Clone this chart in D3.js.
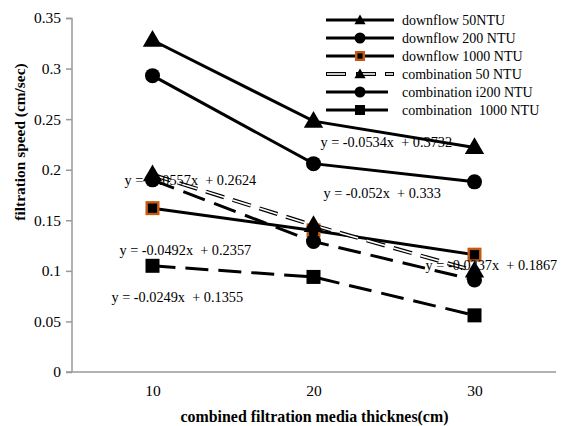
<!DOCTYPE html>
<html><head><meta charset="utf-8">
<script src="https://cdn.jsdelivr.net/npm/d3@7/dist/d3.min.js"></script>
<style>body{margin:0;background:#fff}svg{display:block}
text{font-family:"Liberation Serif","Times New Roman",serif;}</style>
</head><body><svg id="c" width="571" height="426"></svg>
<script>
const categories = ["10","20","30"];
const yTicks = [0,0.05,0.1,0.15,0.2,0.25,0.3,0.35];
const downflow50 = [0.328,0.248,0.222];
const downflow200 = [0.293,0.206,0.188];
const downflow1000 = [0.162,0.140,0.116];
const combination50 = [0.195,0.145,0.100];
const combination200 = [0.190,0.129,0.091];
const combination1000 = [0.105,0.094,0.056];
const seriesNames = ["downflow 50NTU","downflow 200 NTU","downflow 1000 NTU","combination 50 NTU","combination i200 NTU","combination  1000 NTU"];
const equations = ["y = -0.0534x  + 0.3732","y = -0.052x  + 0.333","y = -0.0237x  + 0.1867","y = -0.0557x  + 0.2624","y = -0.0492x  + 0.2357","y = -0.0249x  + 0.1355"];

const series = [
  {name:seriesNames[0], values:downflow50, marker:"tri", style:"solid"},
  {name:seriesNames[1], values:downflow200, marker:"circ", style:"solid"},
  {name:seriesNames[2], values:downflow1000, marker:"sqOrange", style:"solid"},
  {name:seriesNames[3], values:combination50, marker:"tri", style:"hollow"},
  {name:seriesNames[4], values:combination200, marker:"circ", style:"dash"},
  {name:seriesNames[5], values:combination1000, marker:"sq", style:"dash"}
];
// equation label anchor positions (category-step offset from first category, y value)
const eqPos = [[1.043,0.2274],[1.062,0.177],[1.696,0.1058],[-0.174,0.1898],[-0.205,0.1206],[-0.255,0.0742]];

const svg = d3.select("#c");
const pL = 72, pR = 555, pT = 18, pB = 372;
const x = d3.scalePoint().domain(categories).range([pL, pR]).padding(0.5);
const y = d3.scaleLinear().domain([0,0.35]).range([pB, pT]);
const step = x.step();

// axes
const yAx = svg.append("g").attr("transform",`translate(${pL},0)`)
  .call(d3.axisLeft(y).tickValues(yTicks).tickSize(6).tickPadding(5).tickFormat(d=>String(+d.toFixed(2))));
yAx.attr("font-family",null).attr("font-size",null);
yAx.select(".domain").attr("stroke","#999").attr("stroke-width",1.5).attr("d",`M-6,${pT+0.5}H0V${pB}`);
yAx.selectAll(".tick line").attr("stroke","#999").attr("stroke-width",1.5);
yAx.selectAll("text").attr("font-size",15.5).attr("fill","#000");

const xAx = svg.append("g").attr("transform",`translate(0,${pB})`)
  .call(d3.axisBottom(x).tickSize(0).tickPadding(13));
xAx.attr("font-family",null).attr("font-size",null);
xAx.select(".domain").attr("stroke","#999").attr("stroke-width",1.5).attr("d",`M${pL-6},0H${pR+1}`);
xAx.selectAll("text").attr("font-size",15.5).attr("fill","#000");

svg.append("text").attr("x",(pL+pR)/2+1).attr("y",422).attr("text-anchor","middle")
  .attr("font-weight","bold").attr("font-size",15.9).text("combined filtration media thicknes(cm)");
svg.append("text").attr("transform","translate(25,142) rotate(-90)").attr("text-anchor","middle")
  .attr("font-weight","bold").attr("font-size",15.4).text("filtration speed (cm/sec)");

function drawLine(g, pts, style){
  const line = d3.line();
  if(style==="hollow"){
    g.append("path").attr("d",line(pts)).attr("fill","none").attr("stroke","#000").attr("stroke-width",4).attr("stroke-dasharray","19,9");
    g.append("path").attr("d",line(pts)).attr("fill","none").attr("stroke","#fff").attr("stroke-width",1.6).attr("stroke-dasharray","19,9");
  } else {
    g.append("path").attr("d",line(pts)).attr("fill","none").attr("stroke","#000").attr("stroke-width",3)
      .attr("stroke-dasharray", style==="dash" ? "23,10" : null);
  }
}
function drawMarker(g, cx, cy, type, s){
  if(type==="tri"){
    g.append("path").attr("d",d3.symbol(d3.symbolTriangle, s*s*0.45)()).attr("transform",`translate(${cx},${cy+1})`).attr("fill","#000");
  } else if(type==="circ"){
    g.append("circle").attr("cx",cx).attr("cy",cy).attr("r",s/2).attr("fill","#000");
  } else if(type==="sq"){
    g.append("rect").attr("x",cx-s/2).attr("y",cy-s/2).attr("width",s).attr("height",s).attr("fill","#000");
  } else {
    g.append("rect").attr("x",cx-s/2+1.2).attr("y",cy-s/2+1.2).attr("width",s-2.4).attr("height",s-2.4).attr("fill","#000").attr("stroke","#C55A11").attr("stroke-width",2.4);
  }
}

const sizes = {tri:19, circ:15, sq:14, sqOrange:14};
series.forEach(s=>{
  const g = svg.append("g");
  const pts = s.values.map((v,i)=>[x(categories[i]), y(v)]);
  drawLine(g, pts, s.style);
  pts.forEach(p=>drawMarker(g,p[0],p[1],s.marker,sizes[s.marker]));
});

// equation labels
equations.forEach((t,i)=>{
  const [ci, yv] = eqPos[i];
  svg.append("text").attr("x", x(categories[0]) + ci*step).attr("y", y(yv)+5)
    .attr("font-size",14.3).attr("fill","#000").style("white-space","pre").text(t);
});

// legend
const lg = svg.append("g");
const lsizes = {tri:11, circ:11, sq:10, sqOrange:10};
series.forEach((s,i)=>{
  const ly = 20 + i*18;
  const g = lg.append("g");
  if(s.style==="hollow"){
    [[326,346],[356,376],[385,394]].forEach(([a,b])=>{
      g.append("path").attr("d",`M${a},${ly}H${b}`).attr("stroke","#000").attr("stroke-width",4);
      g.append("path").attr("d",`M${a+1},${ly}H${b-1}`).attr("stroke","#fff").attr("stroke-width",1.6);
    });
  } else if(s.style==="dash"){
    g.append("path").attr("d",`M326,${ly}H388`).attr("stroke","#000").attr("stroke-width",3);
  } else {
    g.append("path").attr("d",`M326,${ly}H394`).attr("stroke","#000").attr("stroke-width",3);
  }
  drawMarker(g, 360, ly, s.marker, lsizes[s.marker]);
  g.append("text").attr("x",402).attr("y",ly+5).attr("font-size",14)
    .style("white-space","pre").text(s.name);
});
</script></body></html>
